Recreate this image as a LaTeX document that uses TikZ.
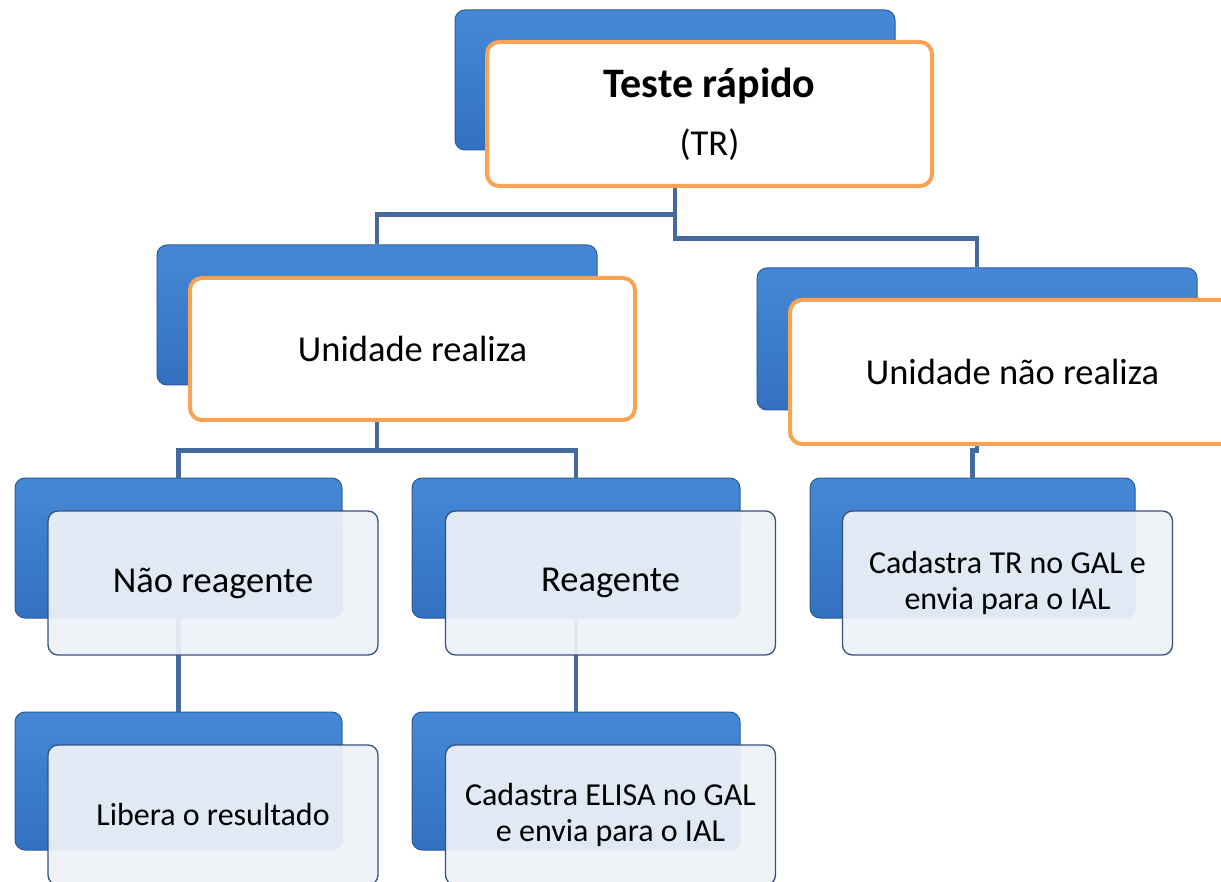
\documentclass[tikz,border=0pt]{standalone}
\usepackage{fontspec}
\setmainfont{Carlito}
\definecolor{backblue}{HTML}{3F80CF}
\definecolor{backtop}{HTML}{4589D6}
\definecolor{backbot}{HTML}{3371C0}
\definecolor{backline}{HTML}{2B5B96}
\definecolor{connblue}{HTML}{44699C}
\definecolor{frontorange}{HTML}{F8A252}
\definecolor{frontpale}{HTML}{EEF2F8}
\definecolor{frontline}{HTML}{34527D}
\tikzset{
  backbox/.style={draw=backline, line width=1pt, rounded corners=10pt,
    top color=backtop, bottom color=backbot, inner sep=0pt},
  mainbox/.style={draw=frontorange, line width=4pt, fill=white, rounded corners=12pt,
    inner sep=0pt, minimum width=445pt, align=center,
    font=\fontsize{36.5}{44}\selectfont},
  leafbox/.style={draw=frontline, line width=1.3pt, fill=frontpale, fill opacity=0.93,
    text opacity=1, rounded corners=10pt, inner sep=0pt, minimum width=330pt,
    minimum height=144pt, align=center},
  conn/.style={draw=connblue, line width=4.5pt}
}
\begin{document}
\begin{tikzpicture}[x=1pt,y=-1pt]
\useasboundingbox (0,0) rectangle (1221,882);

% blue boxes at the back
\node[backbox, minimum width=440pt, minimum height=140pt] (trb) at (675,80) {};
\node[backbox, minimum width=440pt, minimum height=140pt] (urb) at (377,315) {};
\node[backbox, minimum width=440pt, minimum height=142pt] (unb) at (977,339) {};
\node[backbox, minimum width=327pt, minimum height=140pt] (nrb) at (178.5,548) {};
\node[backbox, minimum width=328pt, minimum height=140pt] (rb) at (576,548) {};
\node[backbox, minimum width=325pt, minimum height=140pt] (crb) at (972.5,548) {};
\node[backbox, minimum width=327pt, minimum height=138pt] (lb) at (178.5,781) {};
\node[backbox, minimum width=328pt, minimum height=138pt] (eb) at (576,781) {};

% connectors
\draw[conn] (trb.south) -- ++(0,64) -| (urb.north);
\draw[conn] (trb.south) -- ++(0,88) -| (unb.north);
\draw[conn] (urb.south) -- ++(0,65) -| (nrb.north);
\draw[conn] (urb.south) -- ++(0,65) -| (rb.north);
\draw[conn] (unb.south) -- ++(0,40) -| (crb.north);
\draw[conn] (nrb.south) -- (lb.north);
\draw[conn] (rb.south) -- (eb.north);

% front boxes
\node[mainbox, minimum height=144pt] (tr) at (709.5,114)
  {{\bfseries\fontsize{42}{50}\selectfont Teste rápido}\\[14pt](TR)};
\node[mainbox, minimum height=142pt] (ur) at (412.5,349) {Unidade realiza};
\node[mainbox, minimum height=144pt] (un) at (1012.5,372) {Unidade não realiza};

\node[leafbox, font=\fontsize{36.5}{44}\selectfont] (nr) at (213,583) {Não reagente};
\node[leafbox, font=\fontsize{36.5}{44}\selectfont] (r) at (610.5,583) {Reagente};
\node[leafbox, font=\fontsize{32}{36}\selectfont] (cr) at (1007.5,583)
  {Cadastra TR no GAL e\\envia para o IAL};
\node[leafbox, minimum height=140pt, font=\fontsize{32}{36}\selectfont] (l) at (213,815)
  {Libera o resultado};
\node[leafbox, minimum height=140pt, font=\fontsize{32}{36}\selectfont] (e) at (610.5,815)
  {Cadastra ELISA no GAL\\e envia para o IAL};
\end{tikzpicture}
\end{document}
